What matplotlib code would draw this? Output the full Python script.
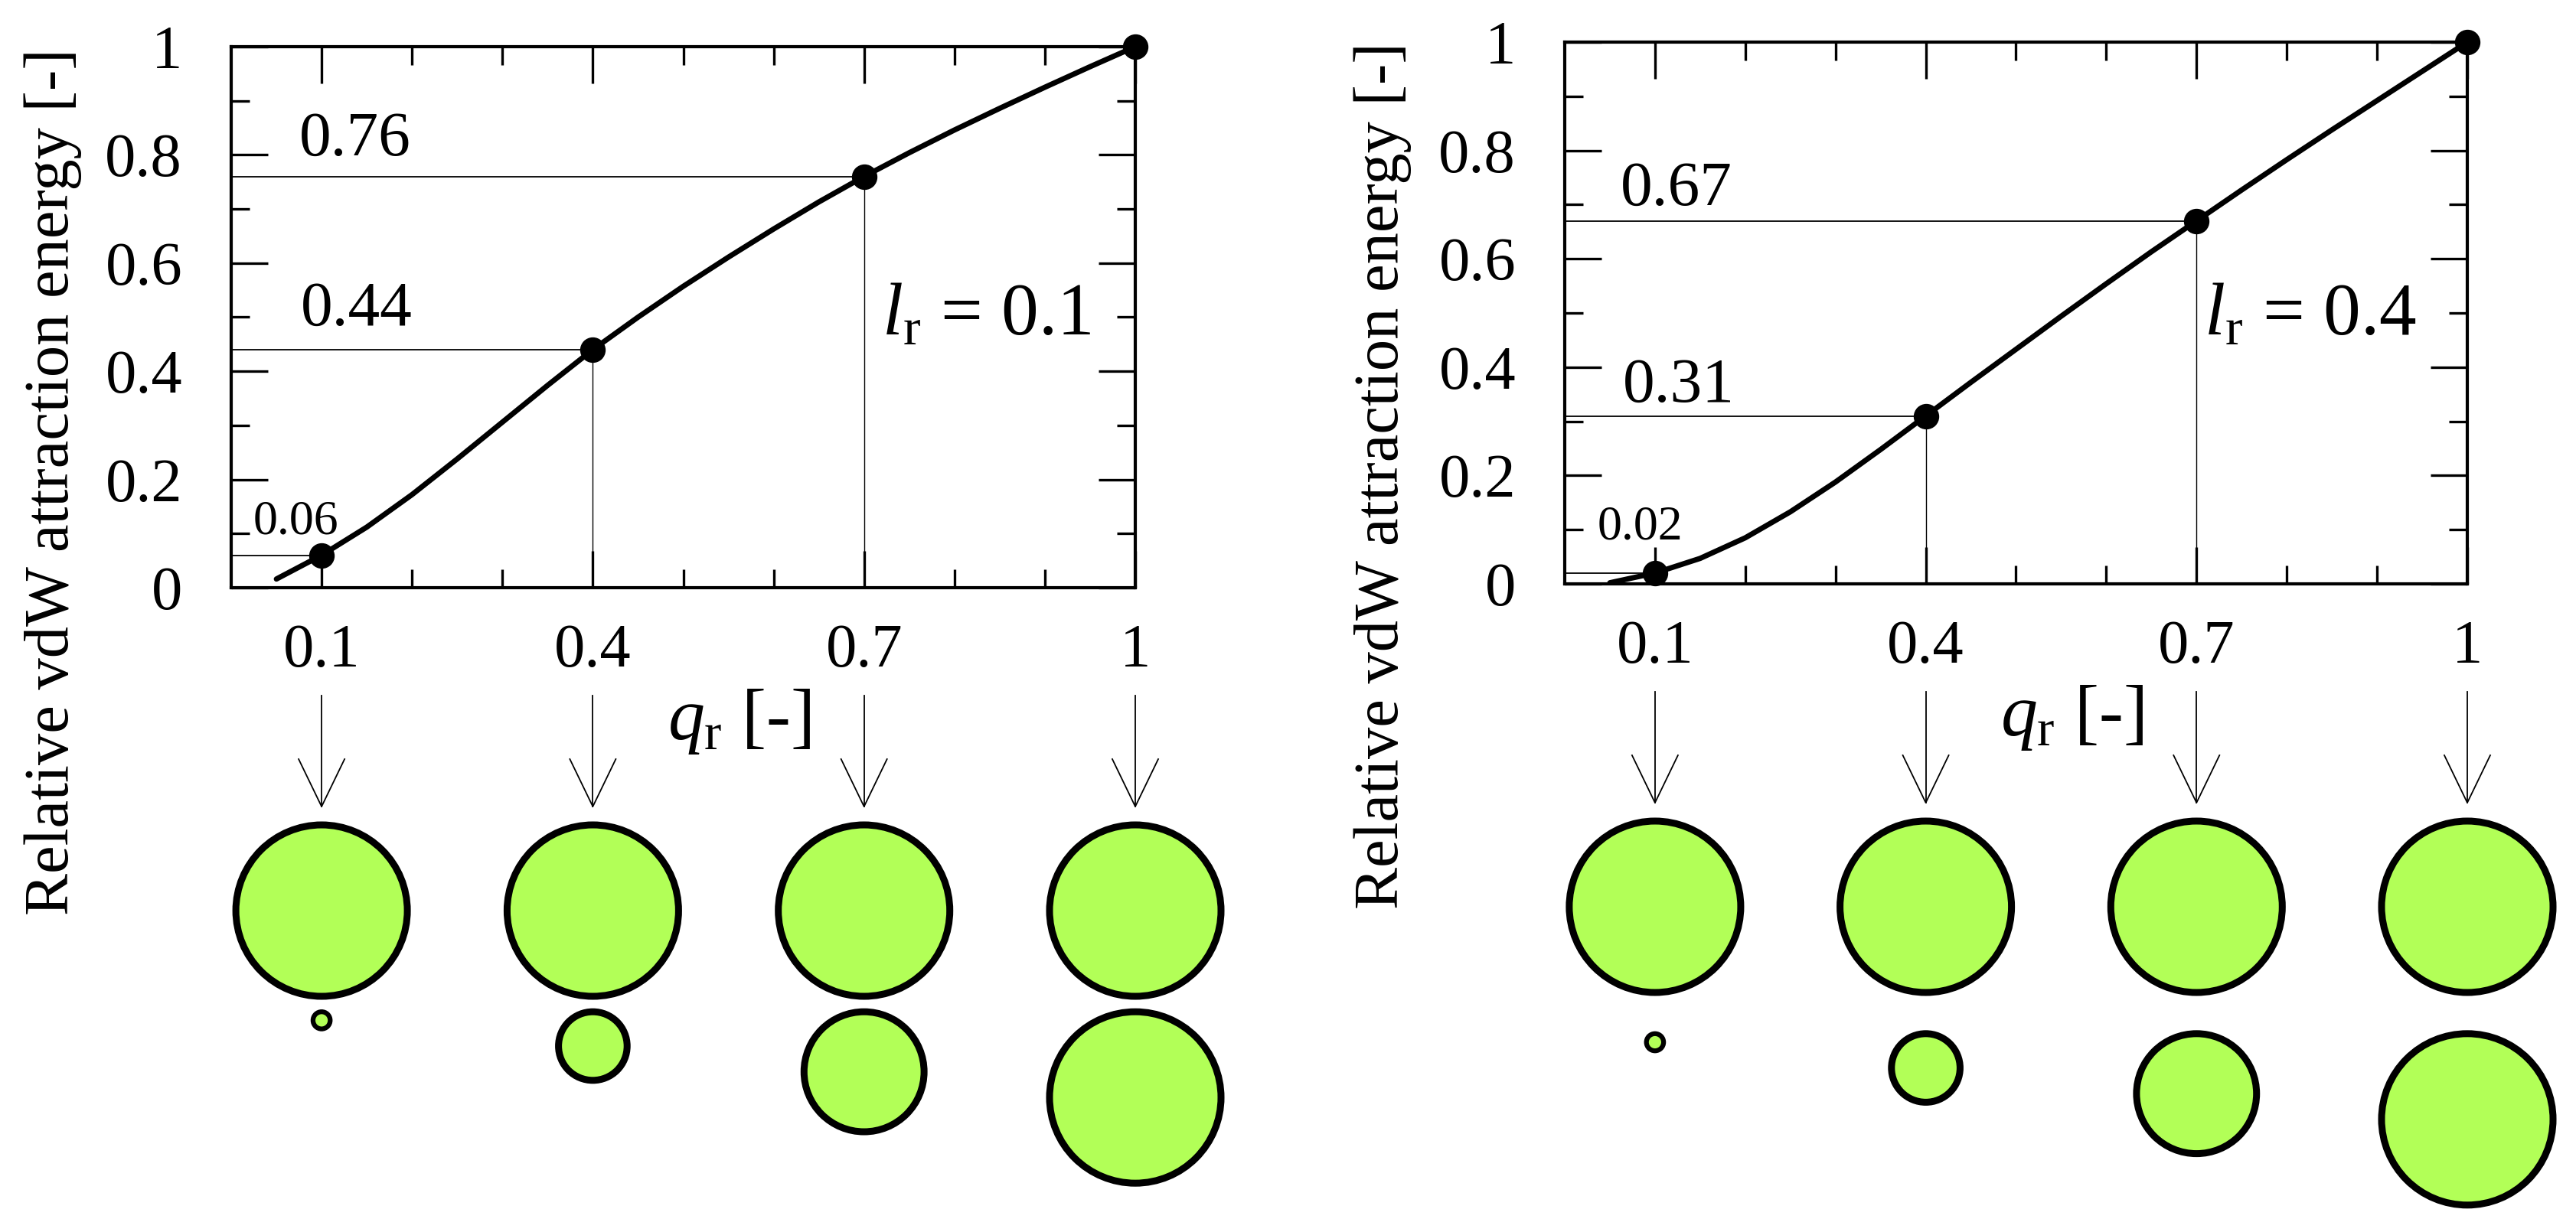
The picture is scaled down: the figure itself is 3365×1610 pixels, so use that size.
import matplotlib
matplotlib.use('Agg')
import matplotlib.pyplot as plt
from matplotlib import font_manager as fm
from matplotlib.patches import Circle
from matplotlib.ticker import FixedLocator, FixedFormatter, NullFormatter

names = {f.name for f in fm.fontManager.ttflist}
SERIF = next((n for n in ['Liberation Serif', 'Times New Roman', 'Nimbus Roman', 'DejaVu Serif']
              if n in names), 'serif')
plt.rcParams['font.family'] = [SERIF, 'DejaVu Serif']
plt.rcParams['mathtext.fontset'] = 'custom'
plt.rcParams['mathtext.rm'] = SERIF
plt.rcParams['mathtext.it'] = SERIF + ':italic'

# ---------------- data ----------------
l_r_values = [0.1, 0.4]
q_marked = [0.1, 0.4, 0.7, 1.0]
E_marked_l01 = [0.06, 0.44, 0.76, 1.0]
E_marked_l04 = [0.02, 0.31, 0.67, 1.0]
q_curve = [0.05, 0.1, 0.15, 0.2, 0.25, 0.3, 0.35, 0.4, 0.45, 0.5, 0.55, 0.6, 0.65, 0.7,
           0.75, 0.8, 0.85, 0.9, 0.95, 1.0]
E_curve_l01 = [0.016, 0.06, 0.112, 0.172, 0.238, 0.306, 0.374, 0.44, 0.500, 0.557, 0.611,
               0.663, 0.713, 0.760, 0.804, 0.846, 0.886, 0.925, 0.963, 1.0]
E_curve_l04 = [0.002, 0.02, 0.047, 0.085, 0.133, 0.188, 0.248, 0.31, 0.372, 0.433, 0.494,
               0.554, 0.613, 0.67, 0.727, 0.783, 0.838, 0.892, 0.946, 1.0]
x_major_ticks = [0.1, 0.4, 0.7, 1.0]
x_tick_labels = ['0.1', '0.4', '0.7', '1']
x_minor_ticks = [0.2, 0.3, 0.5, 0.6, 0.8, 0.9]
y_major_ticks = [0.0, 0.2, 0.4, 0.6, 0.8, 1.0]
y_tick_labels = ['0', '0.2', '0.4', '0.6', '0.8', '1']
y_minor_ticks = [0.1, 0.3, 0.5, 0.7, 0.9]
ylabel_text = 'Relative vdW attraction energy [-]'
xlabel_text = r'$q_{\mathrm{r}}$ [-]'

# ---------------- layout ----------------
W, H, DPI = 3365, 1610, 100
fig = plt.figure(figsize=(W / DPI, H / DPI), dpi=DPI)
fig.patch.set_facecolor('white')

panels = [
    dict(box=(302, 61, 1483, 768), E_curve=E_curve_l01, E_marked=E_marked_l01, l_r=l_r_values[0],
         lab_x=[0.024, 0.077, 0.075], lab_off=[0.040, 0.046, 0.040], lab_fs=[46, 60, 60],
         lr_pos=(0.720, 0.467), ylab=(69, 630)),
    dict(box=(2044, 55, 3223, 763), E_curve=E_curve_l04, E_marked=E_marked_l04, l_r=l_r_values[1],
         lab_x=[0.036, 0.064, 0.062], lab_off=[0.062, 0.027, 0.030], lab_fs=[46, 60, 60],
         lr_pos=(0.708, 0.460), ylab=(1806, 622)),
]
YLABEL_LEN_PX = 1135

GREEN = '#b2ff57'
ylabels = []

for p in panels:
    L, T, R, B = p['box']
    wpx, hpx = R - L, B - T
    ax = fig.add_axes([L / W, (H - B) / H, wpx / W, hpx / H])
    ax.set_xlim(0, 1)
    ax.set_ylim(0, 1)
    for s in ax.spines.values():
        s.set_linewidth(3.0)
    ax.xaxis.set_major_locator(FixedLocator(x_major_ticks))
    ax.xaxis.set_major_formatter(FixedFormatter(x_tick_labels))
    ax.xaxis.set_minor_locator(FixedLocator(x_minor_ticks))
    ax.xaxis.set_minor_formatter(NullFormatter())
    ax.yaxis.set_major_locator(FixedLocator(y_major_ticks))
    ax.yaxis.set_major_formatter(FixedFormatter(y_tick_labels))
    ax.yaxis.set_minor_locator(FixedLocator(y_minor_ticks))
    ax.yaxis.set_minor_formatter(NullFormatter())
    ax.tick_params(which='both', direction='in', top=True, right=True, width=2.4, labelsize=58)
    ax.tick_params(which='major', length=34.5)
    ax.tick_params(which='minor', length=17.5)
    ax.tick_params(axis='y', which='major', pad=46)
    ax.tick_params(axis='x', which='major', pad=34)

    # guide lines from the marked points to the axes
    for q, E in zip(q_marked[:-1], p['E_marked'][:-1]):
        ax.plot([0, q], [E, E], color='black', lw=1.3, zorder=2)
        ax.plot([q, q], [0, E], color='black', lw=1.0, zorder=2)

    # curve and marked points
    ax.plot(q_curve, p['E_curve'], color='black', lw=5, solid_capstyle='round',
            solid_joinstyle='round', zorder=3)
    ax.plot(q_marked, p['E_marked'], 'o', color='black', ms=23, zorder=5, clip_on=False)

    # value labels
    for i, (q, E) in enumerate(zip(q_marked[:-1], p['E_marked'][:-1])):
        ax.text(p['lab_x'][i], E + p['lab_off'][i], f'{E:.2f}', fontsize=p['lab_fs'][i],
                ha='left', va='baseline')

    ax.text(p['lr_pos'][0], p['lr_pos'][1], r'$l_{\mathrm{r}}$' + f' = {p["l_r"]}', fontsize=70,
            ha='left', va='baseline')

    # axis labels
    ax.text(0.562, -(943 - 768) / 707, xlabel_text, transform=ax.transAxes, fontsize=69,
            ha='center', va='center')
    ylabels.append(fig.text(p['ylab'][0] / W, 1 - p['ylab'][1] / H, ylabel_text, rotation=90,
                            fontsize=60, ha='center', va='center'))

    # ---------- diagram below: arrows and particle pairs ----------
    top_px = B + 112
    dh = H - top_px
    dax = fig.add_axes([L / W, 0, wpx / W, dh / H])
    dax.set_xlim(0, 1)
    dax.set_ylim(-dh / wpx, 0)
    dax.axis('off')
    u = 1.0 / wpx
    arrow_top = -29 * u
    arrow_tip = -174 * u
    head_len = 62 * u
    head_half = 30 * u
    big_c = -310 * u
    R_big = 112 * u
    stroke = 9 * u
    for q in q_marked:
        dax.plot([q, q], [arrow_top, arrow_tip], color='black', lw=1.3, clip_on=False)
        dax.plot([q - head_half, q, q + head_half],
                 [arrow_tip + head_len, arrow_tip, arrow_tip + head_len],
                 color='black', lw=1.3, clip_on=False, solid_joinstyle='miter')
        dax.add_patch(Circle((q, big_c), R_big, facecolor=GREEN, edgecolor='black',
                             lw=6.5, clip_on=False))
        r_small = q * R_big
        dist = R_big + r_small + p['l_r'] * R_big + stroke
        dax.add_patch(Circle((q, big_c - dist), r_small, facecolor=GREEN, edgecolor='black',
                             lw=6.5 if q > 0.2 else 4.5, clip_on=False))

# size the vertical labels to the reference length
fig.canvas.draw()
renderer = fig.canvas.get_renderer()
for t in ylabels:
    h = t.get_window_extent(renderer).height
    t.set_fontsize(60 * YLABEL_LEN_PX / h)

fig.savefig('out.png', dpi=DPI, facecolor='white')
